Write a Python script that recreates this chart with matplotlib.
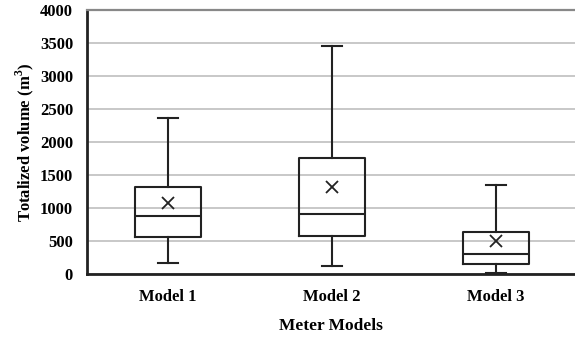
import matplotlib
matplotlib.use("Agg")
import matplotlib.pyplot as plt

categories = ["Model 1", "Model 2", "Model 3"]
whisker_low = [172, 116, 10]
q1 = [565, 581, 152]
median = [881, 909, 298]
q3 = [1318, 1752, 636]
whisker_high = [2370, 3455, 1348]
mean = [1073, 1323, 495]

plt.rcParams['font.family'] = ['Liberation Serif', 'DejaVu Serif']
plt.rcParams['font.weight'] = 'bold'
plt.rcParams['mathtext.fontset'] = 'custom'
plt.rcParams['mathtext.bf'] = 'Liberation Serif:bold'
plt.rcParams['mathtext.rm'] = 'Liberation Serif:bold'

fig = plt.figure(figsize=(5.75, 3.37), dpi=100)
ax = fig.add_axes([87/575, 63/337, (575-87)/575, 264/337])

stats = []
for i, c in enumerate(categories):
    stats.append(dict(label=c, whislo=whisker_low[i], q1=q1[i], med=median[i],
                      q3=q3[i], whishi=whisker_high[i], mean=mean[i], fliers=[]))

lc = '#222222'
ax.bxp(stats, positions=[1, 2, 3], widths=0.4, capwidths=0.116, showmeans=True,
       showfliers=False, patch_artist=False,
       boxprops=dict(color=lc, linewidth=1.5),
       medianprops=dict(color=lc, linewidth=1.5),
       whiskerprops=dict(color=lc, linewidth=1.5),
       capprops=dict(color=lc, linewidth=1.5),
       meanprops=dict(marker='x', markeredgecolor=lc, markerfacecolor=lc,
                      markersize=8, markeredgewidth=1.3),
       zorder=3)

ax.set_xlim(1 - 81/164, 1 + (575-168)/164)
ax.set_ylim(0, 4000)
ax.set_yticks(range(0, 4001, 500))
ax.yaxis.grid(True, color='#c8c8c8', linewidth=1.4, zorder=0)
ax.set_axisbelow(True)
ax.tick_params(axis='y', length=0, labelsize=12, pad=10)
ax.tick_params(axis='x', length=0, labelsize=12, pad=11)
for lab in ax.get_xticklabels() + ax.get_yticklabels():
    lab.set_fontweight('bold')

ax.spines['right'].set_visible(False)
ax.spines['top'].set_color('#888888')
ax.spines['top'].set_linewidth(1.6)
for s in ['left', 'bottom']:
    ax.spines[s].set_color('#222222')
    ax.spines[s].set_linewidth(2)

ax.set_ylabel('Totalized volume (m$^{\\mathbf{3}}$)', fontsize=12, fontweight='bold', labelpad=3)
ax.set_xlabel('Meter Models', fontsize=12.5, fontweight='bold', labelpad=9)

fig.savefig('out.png', dpi=100)
